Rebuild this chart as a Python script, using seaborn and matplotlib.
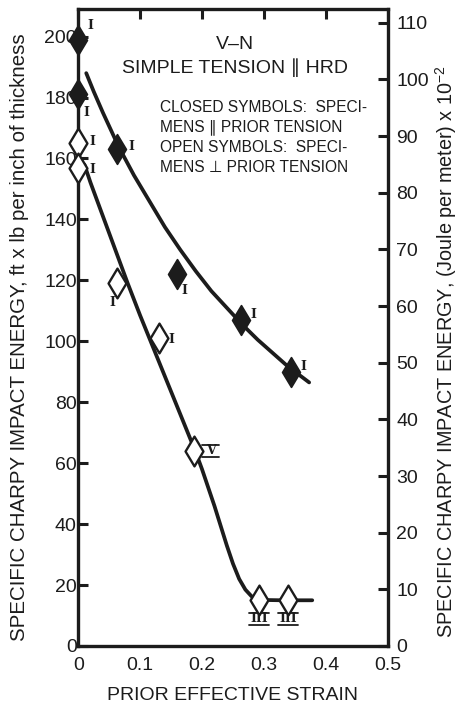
import numpy as np
import pandas as pd
import seaborn as sns
import matplotlib
matplotlib.use("Agg")
import matplotlib.pyplot as plt
import matplotlib.transforms as mtransforms
from matplotlib.lines import Line2D

# Measured specimens: parallel to prior tension (closed symbols)
closed_strain = [0.0, 0.0, 0.063, 0.160, 0.263, 0.343]
closed_energy = [199, 181, 163, 122, 107, 90]
closed_count = ["I", "I", "I", "I", "I", "I"]

# Measured specimens: perpendicular to prior tension (open symbols)
open_strain = [0.0, 0.0, 0.062, 0.130, 0.187, 0.292, 0.339]
open_energy = [165, 157, 119, 101, 64, 15, 15]
open_count = ["I", "I", "I", "I", "V", "III", "III"]

# Hand-faired trend curves through each set
closed_fit_strain = [0.013, 0.025, 0.040, 0.065, 0.090, 0.115, 0.140, 0.165, 0.190,
                     0.215, 0.240, 0.265, 0.290, 0.315, 0.340, 0.360, 0.373]
closed_fit_energy = [188, 182, 175, 164, 154.5, 146, 137.5, 130, 123,
                     116.5, 111, 105.5, 100.5, 96, 91.5, 88.5, 86.5]
open_fit_strain = [0.010, 0.020, 0.040, 0.060, 0.080, 0.100, 0.120, 0.140, 0.160, 0.180,
                   0.190, 0.200, 0.210, 0.220, 0.230, 0.240, 0.250, 0.260, 0.270, 0.280,
                   0.290, 0.300, 0.330, 0.378]
open_fit_energy = [158, 152, 141, 130, 119, 108.5, 98.5, 88.5, 78.5, 68.5,
                   63.5, 58, 52, 46, 39.5, 33, 27, 22, 18.5, 16.3,
                   15.4, 15.1, 15, 15]

x_ticks = [0, 0.1, 0.2, 0.3, 0.4, 0.5]
x_tick_labels = ["0", "0.1", "0.2", "0.3", "0.4", "0.5"]
left_ticks = list(range(0, 201, 20))
right_ticks = list(range(0, 111, 10))

sns.set_theme(style="white")
plt.rcParams["font.family"] = ["Liberation Sans", "DejaVu Sans"]
plt.rcParams["mathtext.fontset"] = "custom"
plt.rcParams["mathtext.rm"] = "Liberation Sans"
plt.rcParams["mathtext.it"] = "Liberation Sans"

INK = "#1c1c1c"
fig = plt.figure(figsize=(4.6, 7.06), dpi=100)
ax = fig.add_axes([0.170, 0.085, 0.673, 0.902])

closed_df = pd.DataFrame({"strain": closed_strain, "energy": closed_energy})
open_df = pd.DataFrame({"strain": open_strain, "energy": open_energy})
cfit = pd.DataFrame({"strain": closed_fit_strain, "energy": closed_fit_energy})
ofit = pd.DataFrame({"strain": open_fit_strain, "energy": open_fit_energy})

sns.lineplot(data=cfit, x="strain", y="energy", ax=ax, color=INK, lw=2.7,
             sort=False, estimator=None, zorder=2)
sns.lineplot(data=ofit, x="strain", y="energy", ax=ax, color=INK, lw=2.7,
             sort=False, estimator=None, zorder=2)
sns.scatterplot(data=closed_df, x="strain", y="energy", ax=ax, marker="d", s=230,
                color=INK, edgecolor=INK, linewidth=1.2, zorder=5, clip_on=False)
sns.scatterplot(data=open_df, x="strain", y="energy", ax=ax, marker="d", s=230,
                color="white", edgecolor=INK, linewidth=1.7, zorder=5, clip_on=False)

ax.set_xlim(0, 0.5)
ax.set_ylim(0, 209)
ax.set_xticks(x_ticks)
ax.set_xticklabels(x_tick_labels)
ax.set_yticks(left_ticks)
ax.tick_params(axis="both", direction="in", length=7, width=2.2, colors=INK,
               labelsize=14, labelcolor=INK, top=True, right=False)
ax.tick_params(axis="y", pad=1)
ax.tick_params(axis="x", pad=8)
for sp in ax.spines.values():
    sp.set_linewidth(2.4)
    sp.set_color(INK)

ax.set_xlabel("PRIOR EFFECTIVE STRAIN", fontsize=14, color=INK, labelpad=9)
ax.set_ylabel("SPECIFIC CHARPY IMPACT ENERGY, ft x lb per inch of thickness",
              fontsize=14.8, color=INK)
ax.yaxis.set_label_coords(-0.16, 0.485)

ax2 = ax.twinx()
ax2.set_ylim(0, 112.4)
ax2.set_yticks(right_ticks)
ax2.tick_params(axis="y", direction="in", length=7, width=2.2, colors=INK,
                labelsize=14, labelcolor=INK, pad=6)
for sp in ax2.spines.values():
    sp.set_visible(False)
ax2.set_ylabel("SPECIFIC CHARPY IMPACT ENERGY, (Joule per meter) x 10$^{-2}$",
               fontsize=14.3, color=INK)
ax2.yaxis.set_label_coords(1.148, 0.462)
ax.set_zorder(ax2.get_zorder() + 1)
ax.patch.set_visible(False)


def roman(x, y, text, dx, dy, barred=False):
    """Specimen-count numeral placed next to a data point (offsets in points)."""
    base = mtransforms.ScaledTranslation(x, y, ax.transData)
    tr = fig.dpi_scale_trans + base
    ox, oy = dx / 72.0, dy / 72.0
    ax.text(ox, oy, text, transform=tr, ha="center", va="center", fontsize=9,
            family="DejaVu Serif", fontweight="bold", color=INK, zorder=4)
    if barred:
        half = 0.10 if len(text) > 1 else 0.085
        for off in (0.058, -0.062):
            ax.add_line(Line2D([ox - half, ox + half], [oy + off, oy + off],
                               transform=tr, color=INK, lw=1.3, zorder=4))


closed_offsets = [(9, 10), (6, -13), (10, 2), (5, -12), (9, 4), (9, 4)]
open_offsets = [(10, 1), (10, -1), (-3, -14), (9, -1), (12, 0), (0, -13), (0, -13)]
for (x, y, t), (dx, dy) in zip(zip(closed_strain, closed_energy, closed_count), closed_offsets):
    roman(x, y, t, dx, dy)
for (x, y, t), (dx, dy) in zip(zip(open_strain, open_energy, open_count), open_offsets):
    roman(x, y, t, dx, dy, barred=(t != "I"))

ax.text(0.253, 197.4, "V\u2013N", ha="center", va="center", fontsize=14, color=INK)
ax.text(0.253, 189.8, "SIMPLE TENSION \u2225 HRD", ha="center", va="center",
        fontsize=14, color=INK)
block = ["CLOSED SYMBOLS:  SPECI-", "MENS \u2225 PRIOR TENSION",
         "OPEN SYMBOLS:  SPECI-", "MENS \u22a5 PRIOR TENSION"]
for i, line in enumerate(block):
    ax.text(0.1315, 176.7 - 6.55 * i, line, ha="left", va="center", fontsize=11.2,
            color=INK)

fig.savefig("out.png", dpi=100, facecolor="white")
